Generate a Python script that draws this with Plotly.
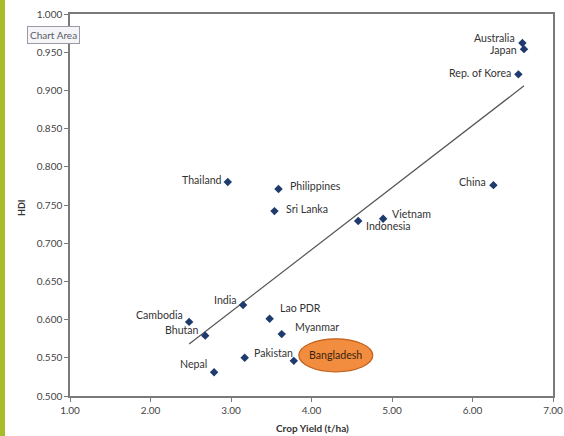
import plotly.graph_objects as go

countries = ["Australia", "Japan", "Rep. of Korea", "China", "Thailand", "Philippines",
             "Sri Lanka", "Indonesia", "Vietnam", "India", "Cambodia", "Bhutan",
             "Lao PDR", "Myanmar", "Pakistan", "Bangladesh", "Nepal"]
crop_yield = [6.62, 6.64, 6.57, 6.26, 2.96, 3.59, 3.54, 4.58, 4.89, 3.15, 2.48, 2.68,
              3.48, 3.63, 3.17, 3.78, 2.79]
hdi = [0.962, 0.954, 0.921, 0.776, 0.780, 0.771, 0.742, 0.729, 0.732, 0.619, 0.597, 0.579,
       0.601, 0.581, 0.550, 0.546, 0.531]
trend_x = [2.48, 6.64]
trend_y = [0.568, 0.906]
x_ticks = [1, 2, 3, 4, 5, 6, 7]
y_ticks = [0.5, 0.55, 0.6, 0.65, 0.7, 0.75, 0.8, 0.85, 0.9, 0.95, 1.0]

# label placement (style): anchor, xshift, yshift in pixels
label_style = {
    "Australia": ("right", -5, 5),
    "Japan": ("right", -5, -1),
    "Rep. of Korea": ("right", -5, 1),
    "China": ("right", -5, 3),
    "Thailand": ("right", -4, 2),
    "Philippines": ("left", 9, 3),
    "Sri Lanka": ("left", 10, 2),
    "Indonesia": ("left", 6, -5),
    "Vietnam": ("left", 7, 5),
    "India": ("right", -4, 5),
    "Cambodia": ("right", -4, 7),
    "Bhutan": ("right", -4, 6),
    "Lao PDR": ("left", 8, 11),
    "Myanmar": ("left", 11, 7),
    "Pakistan": ("left", 7, 5),
    "Nepal": ("right", -5, 8),
}

FONT = "Lato, Open Sans, sans-serif"
ML, MR, MT, MB = 70, 11, 14, 40
PW, PH = 564 - ML - MR, 436 - MT - MB  # plot area size in px
LBL = 10.6

fig = go.Figure()
fig.add_trace(go.Scatter(x=trend_x, y=trend_y, mode="lines",
                         line=dict(color="#555555", width=1.2), hoverinfo="skip",
                         showlegend=False))
fig.add_trace(go.Scatter(x=crop_yield, y=hdi, mode="markers", text=countries,
                         marker=dict(symbol="diamond", size=6.5, color="#1F3B6E"),
                         showlegend=False))

annotations = []
for name, xv, yv in zip(countries, crop_yield, hdi):
    if name == "Bangladesh":
        continue
    anc, xs, ys = label_style[name]
    annotations.append(dict(x=xv, y=yv, xref="x", yref="y", text=name, showarrow=False,
                            xanchor=anc, yanchor="middle", xshift=xs, yshift=ys,
                            font=dict(family=FONT, size=LBL, color="#333333")))

bi = countries.index("Bangladesh")
bx, by = crop_yield[bi], hdi[bi]
shapes = [
    dict(type="circle", xref="x", yref="y", xsizemode="pixel", ysizemode="pixel",
         xanchor=bx, yanchor=by, x0=5, x1=79, y0=-11, y1=22,
         fillcolor="#F28C3E", line=dict(color="#C0601A", width=1.2), layer="above"),
    dict(type="rect", xref="paper", yref="paper",
         x0=-ML / PW, x1=(5 - ML) / PW, y0=-MB / PH, y1=1 + MT / PH,
         fillcolor="#A8BC2A", line=dict(width=0), layer="below"),
]
annotations.append(dict(x=bx, y=by, xref="x", yref="y", text="Bangladesh", showarrow=False,
                        xanchor="center", yanchor="middle", xshift=42, yshift=6,
                        font=dict(family=FONT, size=LBL, color="#3A2410")))
annotations.append(dict(x=(53 - ML) / PW, y=(396 - 35) / PH, xref="paper", yref="paper",
                        text="Chart Area", showarrow=False, bgcolor="#F5F5F8",
                        xanchor="center", yanchor="middle",
                        bordercolor="#9A9AA6", borderwidth=1, borderpad=2,
                        font=dict(family=FONT, size=10, color="#5A5A6A")))
# axis titles
annotations.append(dict(x=(312 - ML) / PW, y=(396 - 428) / PH, xref="paper", yref="paper",
                        text="<b>Crop Yield (t/ha)</b>", showarrow=False,
                        xanchor="center", yanchor="middle",
                        font=dict(family=FONT, size=10, color="#333333")))
annotations.append(dict(x=(21 - ML) / PW, y=(396 - 208) / PH, xref="paper", yref="paper",
                        text="<b>HDI</b>", showarrow=False, textangle=-90,
                        xanchor="center", yanchor="middle",
                        font=dict(family=FONT, size=9, color="#333333")))

fig.update_layout(
    width=564, height=436,
    margin=dict(l=ML, r=MR, t=MT, b=MB),
    paper_bgcolor="white", plot_bgcolor="white",
    shapes=shapes, annotations=annotations,
    font=dict(family=FONT, color="#444444"),
)
fig.update_xaxes(range=[1, 7], tickvals=x_ticks, tickformat=".2f", showgrid=False,
                 zeroline=False, showline=True, linecolor="#7A7A7A", linewidth=1.5,
                 mirror=True, ticks="outside", ticklen=4, tickcolor="#7A7A7A",
                 automargin=False, ticklabeloverflow="allow",
                 tickfont=dict(size=10, color="#444444"))
fig.update_yaxes(range=[0.5, 1.0], tickvals=y_ticks, tickformat=".3f", showgrid=False,
                 zeroline=False, showline=True, linecolor="#7A7A7A", linewidth=1.5,
                 mirror=True, ticks="outside", ticklen=4, tickcolor="#7A7A7A",
                 automargin=False, ticklabeloverflow="allow",
                 tickfont=dict(size=10, color="#444444"))

fig.write_html("out.html", config={"displayModeBar": False},
               post_script="document.body.style.margin='0px';document.body.style.overflow='hidden';")
